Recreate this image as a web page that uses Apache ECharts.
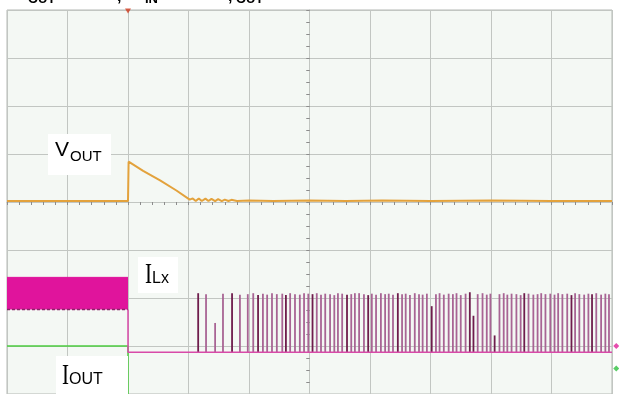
<!DOCTYPE html>
<html><head><meta charset="utf-8">
<script src="https://cdn.jsdelivr.net/npm/echarts@6/dist/echarts.min.js"></script>
<style>html,body{margin:0;padding:0;background:#fff}#c{width:619px;height:394px}</style>
</head><body><div id="c"></div>
<script>
// Time axis in divisions (screen centre = 0), amplitude in divisions (centre = 0)
const voutX = [-5, -3.0, -2.99, -2.75, -2.47, -2.2, -1.98, -1.93, -1.88, -1.83, -1.78, -1.72, -1.67, -1.62, -1.56, -1.51, -1.45, -1.40, -1.34, -1.29, -1.2, -1.0, -0.6, 0, 0.6, 1.2, 2.0, 3.0, 4.0, 5.0];
const voutY = [0.02, 0.02, 0.84, 0.65, 0.45, 0.24, 0.05, 0.075, 0.02, 0.075, 0.02, 0.07, 0.02, 0.065, 0.02, 0.06, 0.02, 0.05, 0.02, 0.045, 0.02, 0.03, 0.02, 0.03, 0.02, 0.03, 0.02, 0.03, 0.02, 0.02];

const ilxBandX = [-5, -3.0];
const ilxBandTop = -1.57;
const ilxBandBottom = -2.24;
const ilxTraceX = [-3.0, -3.0, 5.0];
const ilxTraceY = [-2.24, -3.13, -3.13];
const ilxBase = -3.13;

const spikeX = [-1.84, -1.71, -1.56, -1.43, -1.28, -1.15, -1.02, -0.93, -0.85, -0.77, -0.70, -0.62, -0.54, -0.45, -0.39, -0.32, -0.24, -0.16, -0.09, -0.02,
  0.05, 0.12, 0.19, 0.26, 0.34, 0.41, 0.47, 0.54, 0.62, 0.69, 0.75, 0.82, 0.90, 0.97, 1.03, 1.10, 1.18, 1.25, 1.31, 1.38,
  1.46, 1.53, 1.59, 1.66, 1.74, 1.81, 1.87, 1.94, 2.02, 2.09, 2.15, 2.22, 2.30, 2.37, 2.43, 2.50, 2.58, 2.65, 2.71, 2.78,
  2.86, 2.93, 2.99, 3.06, 3.14, 3.21, 3.27, 3.34, 3.42, 3.49, 3.55, 3.62, 3.70, 3.77, 3.83, 3.90, 3.98, 4.05, 4.11, 4.18,
  4.26, 4.33, 4.39, 4.46, 4.54, 4.61, 4.67, 4.74, 4.82, 4.89, 4.95];
const spikeTop = [-1.90, -1.92, -2.52, -1.91, -1.90, -1.93, -1.92, -1.90, -1.94, -1.91, -1.93, -1.90, -1.92, -1.91, -1.94, -1.90, -1.92, -1.93, -1.90, -1.91,
  -1.92, -1.90, -1.93, -1.91, -1.92, -1.94, -1.90, -1.91, -1.93, -1.92, -1.90, -1.90, -1.92, -1.94, -1.91, -1.93, -1.90, -1.92, -1.91, -1.93,
  -1.90, -1.92, -1.91, -1.94, -1.90, -1.92, -1.93, -1.91, -2.17, -1.92, -1.90, -1.93, -1.91, -1.92, -1.90, -1.94, -1.91, -1.88, -2.37, -1.92,
  -1.90, -1.93, -1.91, -2.78, -1.92, -1.90, -1.93, -1.91, -1.92, -1.94, -1.90, -1.91, -1.93, -1.92, -1.90, -1.92, -1.91, -1.93, -1.90, -1.92,
  -1.91, -1.94, -1.90, -1.92, -1.93, -1.91, -1.92, -1.90, -1.93, -1.91, -1.92];
const spikeDark = [0, 4, 8, 14, 20, 28, 33, 40, 48, 57, 58, 63, 70, 81, 86];

const ioutX = [-5, -3.0, -3.0];
const ioutY = [-3.0, -3.0, -4.6];

const groundMarks = [[5.07, -3.0, '#e0209a'], [5.07, -3.47, '#30c040']];

const spikeData = spikeX.map((x, i) => [x, spikeTop[i], spikeDark.indexOf(i) >= 0 ? 1 : 0]);

const chart = echarts.init(document.getElementById('c'), null, {renderer: 'canvas'});
const gridLine = '#c2c6c2';
const xBase = {
  type: 'value', min: -5, max: 5, interval: 1,
  axisLabel: {show: false},
  axisLine: {onZero: true, lineStyle: {color: gridLine, width: 1}},
  axisTick: {show: true, length: 3, lineStyle: {color: '#8c8c8c'}},
  minorTick: {show: true, splitNumber: 5, length: 3, lineStyle: {color: '#8c8c8c'}}
};
const yBase = {
  type: 'value', min: -4, max: 4, interval: 1,
  axisLabel: {show: false},
  axisLine: {onZero: true, lineStyle: {color: gridLine, width: 1}},
  axisTick: {show: true, length: 3, lineStyle: {color: '#8c8c8c'}},
  minorTick: {show: true, splitNumber: 4, length: 3, lineStyle: {color: '#8c8c8c'}}
};

const labelFont = 'Liberation Sans, Arial, sans-serif';
const serifFont = 'Liberation Serif, Times New Roman, serif';

chart.setOption({
  animation: false,
  backgroundColor: '#ffffff',
  grid: {left: 7, top: 10, width: 605, height: 389, show: true, backgroundColor: '#f4f8f4', borderColor: '#b4b8b4', borderWidth: 1},
  xAxis: [
    Object.assign({}, xBase, {splitLine: {show: true, lineStyle: {color: gridLine}}, axisTick: Object.assign({}, xBase.axisTick, {inside: false})}),
    Object.assign({}, xBase, {splitLine: {show: false}, axisTick: Object.assign({}, xBase.axisTick, {inside: true})})
  ],
  yAxis: [
    Object.assign({}, yBase, {splitLine: {show: true, lineStyle: {color: gridLine}}, axisTick: Object.assign({}, yBase.axisTick, {inside: false})}),
    Object.assign({}, yBase, {splitLine: {show: false}, axisTick: Object.assign({}, yBase.axisTick, {inside: true})})
  ],
  series: [
    {
      name: 'I_Lx band', type: 'line', symbol: 'none', clip: true,
      data: ilxBandX.map(x => [x, ilxBandTop]),
      lineStyle: {color: '#e0149c', width: 1},
      areaStyle: {origin: ilxBandBottom, color: '#e0149c', opacity: 1}
    },
    {
      name: 'I_Lx band edge', type: 'line', symbol: 'none',
      data: ilxBandX.map(x => [x, ilxBandBottom]),
      lineStyle: {color: '#8a2468', width: 1.5, type: [3, 2]}
    },
    {
      name: 'I_OUT', type: 'line', symbol: 'none',
      data: ioutX.map((x, i) => [x, ioutY[i]]),
      lineStyle: {color: '#4ccc40', width: 1.5}
    },
    {
      name: 'I_Lx', type: 'line', symbol: 'none',
      data: ilxTraceX.map((x, i) => [x, ilxTraceY[i]]),
      lineStyle: {color: '#d84aa8', width: 1.5}
    },
    {
      name: 'I_Lx spikes', type: 'custom',
      data: spikeData,
      encode: {x: 0, y: 1},
      renderItem: function (params, api) {
        const x = api.value(0), top = api.value(1), dark = api.value(2);
        const p1 = api.coord([x, ilxBase]);
        const p2 = api.coord([x, top]);
        return {
          type: 'line',
          shape: {x1: p1[0], y1: p1[1], x2: p2[0], y2: p2[1]},
          style: {stroke: dark ? '#6e1c4c' : '#a86494', lineWidth: 1.8}
        };
      }
    },
    {
      name: 'V_OUT', type: 'line', symbol: 'none',
      data: voutX.map((x, i) => [x, voutY[i]]),
      lineStyle: {color: '#e3a23c', width: 2}
    },
    {
      name: 'trigger', type: 'scatter', clip: false,
      data: [[-3.0, 4.0]],
      symbol: 'triangle', symbolRotate: 180, symbolSize: [6, 5], symbolOffset: [0, 1],
      itemStyle: {color: '#d0381c'}
    },
    {
      name: 'ground', type: 'scatter', clip: false,
      data: groundMarks.map(m => ({value: [m[0], m[1]], itemStyle: {color: m[2]}})),
      symbol: 'diamond', symbolSize: 6
    }
  ],
  graphic: [
    // cropped header text
    {type: 'text', x: 28, y: -1, style: {text: 'OUT', fontSize: 13, fontWeight: 'bold', fontFamily: labelFont, fill: '#000', verticalAlign: 'middle'}},
    {type: 'text', x: 117, y: -3, style: {text: ',', fontSize: 16, fontWeight: 'bold', fontFamily: labelFont, fill: '#000', verticalAlign: 'middle'}},
    {type: 'text', x: 145, y: -1, style: {text: 'IN', fontSize: 13, fontWeight: 'bold', fontFamily: labelFont, fill: '#000', verticalAlign: 'middle'}},
    {type: 'text', x: 228, y: -3, style: {text: ',', fontSize: 16, fontWeight: 'bold', fontFamily: labelFont, fill: '#000', verticalAlign: 'middle'}},
    {type: 'text', x: 236, y: -1, style: {text: 'OUT', fontSize: 13, fontWeight: 'bold', fontFamily: labelFont, fill: '#000', verticalAlign: 'middle'}},
    // V_OUT label
    {type: 'rect', shape: {x: 48, y: 134, width: 63, height: 41}, style: {fill: '#ffffff'}, z: 100},
    {type: 'text', x: 55, y: 150.5, z: 101, style: {text: 'V', fontSize: 21, fontFamily: labelFont, fill: '#000', verticalAlign: 'middle'}},
    {type: 'text', x: 70, y: 157, z: 101, style: {text: 'OUT', fontSize: 15, fontFamily: labelFont, fill: '#000', verticalAlign: 'middle'}},
    // I_Lx label
    {type: 'rect', shape: {x: 138, y: 257, width: 40, height: 36}, style: {fill: '#ffffff'}, z: 100},
    {type: 'text', x: 145, y: 275, z: 101, scaleX: 0.7, style: {text: 'I', fontSize: 30, fontFamily: serifFont, fill: '#000', verticalAlign: 'middle'}},
    {type: 'text', x: 152, y: 279, z: 101, style: {text: 'Lx', fontSize: 16, fontFamily: labelFont, fill: '#000', verticalAlign: 'middle'}},
    // I_OUT label
    {type: 'rect', shape: {x: 56, y: 356, width: 72, height: 40}, style: {fill: '#ffffff'}, z: 100},
    {type: 'text', x: 62, y: 376, z: 101, scaleX: 0.7, style: {text: 'I', fontSize: 30, fontFamily: serifFont, fill: '#000', verticalAlign: 'middle'}},
    {type: 'text', x: 69, y: 380, z: 101, style: {text: 'OUT', fontSize: 16, fontFamily: labelFont, fill: '#000', verticalAlign: 'middle'}}
  ]
});
</script>
</body></html>
